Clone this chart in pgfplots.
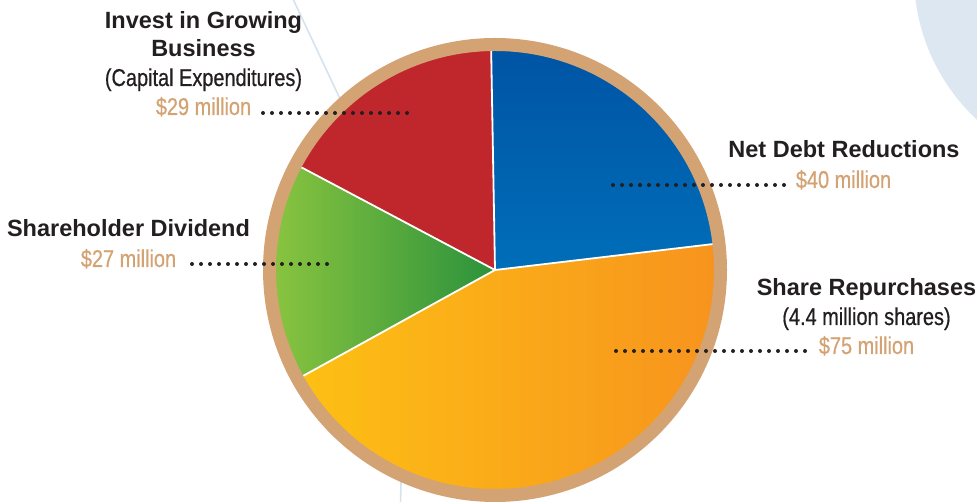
\documentclass[border=0pt]{standalone}
\usepackage{pgfplots}
\pgfplotsset{compat=1.18}
\usepackage{pgfplotstable}
\usepackage{fontspec}
\setmainfont{Liberation Sans}
\newfontfamily\condfont[FakeStretch=0.82,FakeBold=0.6]{Liberation Sans}

\definecolor{tanc}{RGB}{212,163,116}
\definecolor{txt}{RGB}{35,31,32}
\definecolor{redS}{RGB}{192,39,45}
\definecolor{blueA}{RGB}{0,84,164}
\definecolor{blueB}{RGB}{0,110,185}
\definecolor{orA}{RGB}{253,192,20}
\definecolor{orB}{RGB}{247,146,30}
\definecolor{grA}{RGB}{141,198,63}
\definecolor{grB}{RGB}{43,146,60}
\definecolor{bgc}{RGB}{221,231,241}
\definecolor{bgl}{RGB}{214,227,239}

\pgfplotstableread{
label value
NetDebt 40
Repurchases 75
Dividend 27
Capex 29
}\piedata

\newcommand\boldlab{\fontsize{23.5}{28}\selectfont\bfseries}
\newcommand\reglab{\fontsize{24.3}{28}\selectfont\condfont}

\begin{document}
\begin{tikzpicture}
\pgfplotstablegetelem{0}{value}\of\piedata \edef\va{\pgfplotsretval}
\pgfplotstablegetelem{1}{value}\of\piedata \edef\vb{\pgfplotsretval}
\pgfplotstablegetelem{2}{value}\of\piedata \edef\vc{\pgfplotsretval}
\pgfplotstablegetelem{3}{value}\of\piedata \edef\vd{\pgfplotsretval}
\pgfmathsetmacro\tot{\va+\vb+\vc+\vd}
\pgfmathsetmacro\aA{91}
\pgfmathsetmacro\aB{\aA-360*(\va/\tot)}
\pgfmathsetmacro\aC{\aB-360*(\vb/\tot)}
\pgfmathsetmacro\aD{\aC-360*(\vc/\tot)}
\pgfmathsetmacro\aE{\aA-360}
\def\cx{495}\def\cy{232}
\begin{axis}[at={(0,0)}, anchor=south west, scale only axis,
  width=977pt, height=502pt, xmin=0, xmax=977, ymin=0, ymax=502,
  hide axis, clip=true]
% background decorations
\fill[bgc] (axis cs:1112,527) circle[radius=198pt];
\draw[bgl, line width=1.6pt] (axis cs:293,503) -- (axis cs:350,382);
\draw[bgl, line width=1.6pt] (axis cs:401.5,40) -- (axis cs:400.5,-1);
% pie slices
\shade[top color=blueA, bottom color=blueB] (axis cs:\cx,\cy) -- ++(\aA:222pt) arc[start angle=\aA, end angle=\aB, radius=222pt] -- cycle;
\shade[left color=orA, right color=orB] (axis cs:\cx,\cy) -- ++(\aB:222pt) arc[start angle=\aB, end angle=\aC, radius=222pt] -- cycle;
\shade[left color=grA, right color=grB] (axis cs:\cx,\cy) -- ++(\aC:222pt) arc[start angle=\aC, end angle=\aD, radius=222pt] -- cycle;
\fill[redS] (axis cs:\cx,\cy) -- ++(\aD:222pt) arc[start angle=\aD, end angle=\aE, radius=222pt] -- cycle;
\draw[white, line width=1.8pt] (axis cs:\cx,\cy) -- ++(\aA:221pt);
\draw[white, line width=1.8pt] (axis cs:\cx,\cy) -- ++(\aB:221pt);
\draw[white, line width=1.8pt] (axis cs:\cx,\cy) -- ++(\aC:221pt);
\draw[white, line width=1.8pt] (axis cs:\cx,\cy) -- ++(\aD:221pt);
\draw[tanc, line width=13pt] (axis cs:\cx,\cy) circle[radius=225.5pt];
% leader dots
\draw[txt, line width=4pt, line cap=round, dash pattern=on 0pt off 9pt] (axis cs:263,389) -- (axis cs:413,389);
\draw[txt, line width=4pt, line cap=round, dash pattern=on 0pt off 9pt] (axis cs:192,238) -- (axis cs:331,238);
\draw[txt, line width=4pt, line cap=round, dash pattern=on 0pt off 9pt] (axis cs:613,317) -- (axis cs:788,317);
\draw[txt, line width=4pt, line cap=round, dash pattern=on 0pt off 9pt] (axis cs:616,151) -- (axis cs:809,151);
% labels
\node[anchor=base, inner sep=0pt, text=txt, font=\boldlab] at (axis cs:203.5,473) {Invest in Growing};
\node[anchor=base, inner sep=0pt, text=txt, font=\boldlab] at (axis cs:203.5,445) {Business};
\node[anchor=base, inner sep=0pt, text=txt, font=\reglab] at (axis cs:203.5,416) {(Capital Expenditures)};
\node[anchor=base, inner sep=0pt, text=tanc, font=\reglab] at (axis cs:203.5,387) {\$29 million};
\node[anchor=base, inner sep=0pt, text=txt, font=\boldlab] at (axis cs:128.5,265) {Shareholder Dividend};
\node[anchor=base, inner sep=0pt, text=tanc, font=\reglab] at (axis cs:128.5,235) {\$27 million};
\node[anchor=base, inner sep=0pt, text=txt, font=\boldlab] at (axis cs:844,344) {Net Debt Reductions};
\node[anchor=base, inner sep=0pt, text=tanc, font=\reglab] at (axis cs:843.5,314) {\$40 million};
\node[anchor=base, inner sep=0pt, text=txt, font=\boldlab] at (axis cs:866.5,206) {Share Repurchases};
\node[anchor=base, inner sep=0pt, text=txt, font=\reglab] at (axis cs:866.5,177) {(4.4 million shares)};
\node[anchor=base, inner sep=0pt, text=tanc, font=\reglab] at (axis cs:866.5,148) {\$75 million};
\end{axis}
\pgfresetboundingbox
\path (0,0) rectangle (977pt,502pt);
\end{tikzpicture}
\end{document}
